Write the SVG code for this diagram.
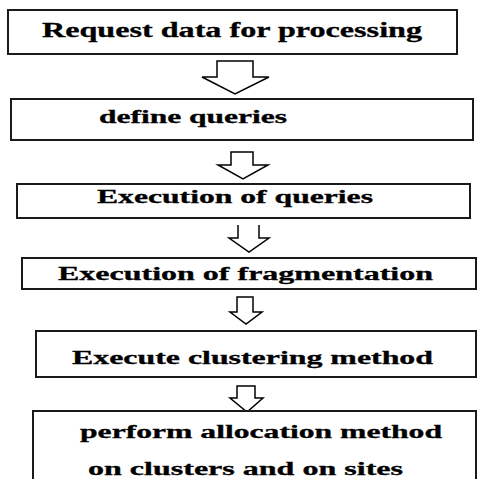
<svg xmlns="http://www.w3.org/2000/svg" width="478" height="479" viewBox="0 0 478 479">
<style>
.box{fill:#fff;stroke:#1a1a1a;stroke-width:2}
.arr{fill:#fff;stroke:#000;stroke-width:1.5;stroke-linejoin:miter}
.t{font-family:'Liberation Serif','Times New Roman','DejaVu Serif',serif;font-weight:700;font-size:18px;fill:#000;stroke:#000;stroke-width:0.3}
</style>
<rect width="478" height="479" fill="#fff"/>
<g id="connectors">
<path class="arr" d="M217,61 H253 V77 H269 L235,94 L202,77 H217 Z"/>
<path class="arr" d="M231,152 H253 V165 H268 L243,179 L218,165 H231 Z"/>
<path class="arr" d="M238,225 V238 H229 L249,252 L269,238 H259 V225"/>
<path class="arr" d="M237,297 H253 V312 H262 L246,324 L230,312 H237 Z"/>
<path class="arr" d="M237,386 H255 V398 H263 L247,412 L230,398 H237 Z"/>
</g>
<g id="n1">
<rect class="box" x="8" y="10" width="449" height="44"/>
<text class="t" x="42" y="37" style="font-size:20px" textLength="380" lengthAdjust="spacingAndGlyphs">Request data for processing</text>
</g>
<g id="n2">
<rect class="box" x="11" y="99" width="462" height="41"/>
<text class="t" x="99" y="123" textLength="188" lengthAdjust="spacingAndGlyphs">define queries</text>
</g>
<g id="n3">
<rect class="box" x="17" y="184" width="453" height="34"/>
<text class="t" x="97" y="203" textLength="276" lengthAdjust="spacingAndGlyphs">Execution of queries</text>
</g>
<g id="n4">
<rect class="box" x="22" y="258" width="454" height="31"/>
<text class="t" x="58" y="280" textLength="375" lengthAdjust="spacingAndGlyphs">Execution of fragmentation</text>
</g>
<g id="n5">
<rect class="box" x="36" y="331" width="440" height="46"/>
<text class="t" x="72" y="364" textLength="361" lengthAdjust="spacingAndGlyphs">Execute clustering method</text>
</g>
<g id="n6">
<rect class="box" x="33" y="411" width="443" height="80"/>
<text class="t" x="80" y="438" textLength="362" lengthAdjust="spacingAndGlyphs">perform allocation method</text>
<text class="t" x="88" y="475" textLength="315" lengthAdjust="spacingAndGlyphs">on clusters and on sites</text>
</g>
</svg>
